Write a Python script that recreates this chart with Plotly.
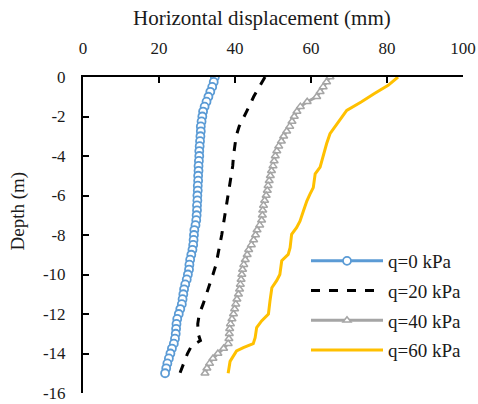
import plotly.graph_objects as go

# ---- data ----
x_ticks = [0, 20, 40, 60, 80, 100]
x_ticklabels = ["0", "20", "40", "60", "80", "100"]
y_ticks = [0, -2, -4, -6, -8, -10, -12, -14, -16]
y_ticklabels = ["0", "-2", "-4", "-6", "-8", "-10", "-12", "-14", "-16"]

depth_q0 = [0, -0.25, -0.5, -0.75, -1.0, -1.25, -1.5, -1.75, -2.0, -2.25, -2.5, -2.75,
            -3.0, -3.25, -3.5, -3.75, -4.0, -4.25, -4.5, -4.75, -5.0, -5.25, -5.5, -5.75,
            -6.0, -6.25, -6.5, -6.75, -7.0, -7.25, -7.5, -7.75, -8.0, -8.25, -8.5, -8.75,
            -9.0, -9.25, -9.5, -9.75, -10.0, -10.25, -10.5, -10.75, -11.0, -11.25, -11.5,
            -11.75, -12.0, -12.25, -12.5, -12.75, -13.0, -13.25, -13.5, -13.75, -14.0,
            -14.25, -14.5, -14.75, -15.0]
disp_q0 = [34.7, 34.4, 34.0, 33.5, 33.0, 32.5, 32.0, 31.6, 31.4, 31.2, 31.0, 31.0,
           30.9, 30.8, 30.7, 30.6, 30.6, 30.5, 30.4, 30.4, 30.3, 30.3, 30.2, 30.2,
           30.1, 30.1, 30.0, 30.0, 29.9, 29.8, 29.6, 29.3, 29.2, 29.1, 29.0, 28.8,
           28.5, 28.2, 28.0, 27.9, 27.6, 27.3, 26.9, 26.6, 26.4, 26.2, 26.0,
           25.6, 25.2, 24.8, 24.6, 24.5, 24.4, 24.2, 23.9, 23.4, 23.0,
           22.6, 22.2, 21.9, 21.6]

depth_q20 = [0, -0.5, -1.0, -1.5, -2.0, -2.5, -3.0, -3.5, -4.0, -4.5, -5.0, -5.5, -6.0,
             -6.5, -7.0, -7.5, -8.0, -8.5, -9.0, -9.5, -10.0, -10.5, -11.0, -11.5, -12.0,
             -12.5, -13.0, -13.35, -13.6, -14.0, -14.5, -15.0]
disp_q20 = [47.9, 46.3, 44.9, 43.7, 42.4, 41.1, 40.3, 39.9, 39.6, 39.4, 39.0, 38.6, 38.3,
            37.9, 37.4, 36.9, 36.5, 36.0, 35.6, 35.0, 34.2, 33.4, 32.6, 31.6, 30.6,
            30.2, 30.3, 30.9, 28.6, 27.5, 26.5, 25.5]

depth_q40 = depth_q0
disp_q40 = [65.0, 64.1, 63.2, 62.4, 61.5, 59.0, 57.2, 56.3, 55.6, 55.0, 54.4, 53.6,
            52.8, 52.2, 51.5, 51.0, 50.6, 50.3, 50.0, 49.6, 49.3, 49.0, 48.7, 48.5,
            48.2, 47.8, 47.5, 47.3, 47.2, 47.0, 46.5, 45.8, 45.4, 44.9, 44.3, 43.6,
            43.2, 42.7, 42.3, 42.0, 41.8, 41.6, 41.4, 41.2, 40.9, 40.5, 40.2,
            39.9, 39.6, 39.2, 38.8, 38.6, 38.5, 38.4, 38.2, 37.0, 35.5,
            34.2, 33.3, 32.6, 32.1]

depth_q60 = [0, -0.42, -0.84, -1.27, -1.69, -2.36, -2.87, -3.38, -4.05, -4.56, -4.9, -5.6,
             -5.94, -6.28, -6.79, -7.3, -7.63, -7.97, -8.64, -8.98, -9.3, -10.0, -10.3,
             -10.67, -11.35, -12.0, -12.35, -12.69, -13.2, -13.5, -13.7, -13.87, -14.4, -15.0]
disp_q60 = [82.9, 80.3, 76.7, 73.2, 69.4, 66.8, 65.0, 64.1, 63.2, 62.4, 61.1, 60.6,
            59.7, 58.9, 58.0, 57.1, 56.2, 54.9, 54.5, 54.0, 52.3, 51.8, 51.0,
            49.7, 49.2, 48.8, 47.0, 45.7, 45.3, 44.8, 42.2, 40.4, 38.7, 38.2]

names = ["q=0 kPa", "q=20 kPa", "q=40 kPa", "q=60 kPa"]

FONT = "Liberation Serif"
TXT = "#1a1a1a"

fig = go.Figure()
fig.add_trace(go.Scatter(
    x=disp_q0, y=depth_q0, name=names[0], mode="lines+markers", legendgroup="a",
    line=dict(color="#5B9BD5", width=3),
    marker=dict(symbol="circle", size=8, color="white",
                line=dict(color="#5B9BD5", width=1.8))))
fig.add_trace(go.Scatter(
    x=disp_q20, y=depth_q20, name=names[1], mode="lines", legendgroup="b",
    line=dict(color="black", width=3, dash="dash")))
fig.add_trace(go.Scatter(
    x=disp_q40, y=depth_q40, name=names[2], mode="lines+markers", legendgroup="c",
    line=dict(color="#A5A5A5", width=3),
    marker=dict(symbol="triangle-up", size=7, color="white",
                line=dict(color="#A5A5A5", width=1.5))))
fig.add_trace(go.Scatter(
    x=disp_q60, y=depth_q60, name=names[3], mode="lines", legendgroup="d",
    line=dict(color="#FFC000", width=3)))

L, R, T, B = 83, 15, 77, 11
W, H = 478, 404
pw, ph = W - L - R, H - T - B

fig.update_layout(
    width=W, height=H,
    margin=dict(l=L, r=R, t=T, b=B, pad=0, autoexpand=False),
    paper_bgcolor="white", plot_bgcolor="white",
    font=dict(family=FONT, size=16, color=TXT),
    showlegend=True,
    legend=dict(
        x=(306 - L) / pw, y=(H - B - 242) / ph, xanchor="left", yanchor="top",
        xref="paper", yref="paper",
        font=dict(family=FONT, size=19, color=TXT),
        bgcolor="rgba(0,0,0,0)", itemwidth=72,
        tracegroupgap=2, traceorder="grouped",
    ),
    xaxis=dict(
        side="top", range=[0, 100], tickvals=x_ticks, ticktext=x_ticklabels,
        showline=True, linecolor="black", linewidth=2, mirror=False,
        ticks="inside", ticklen=6, tickwidth=1.5, tickcolor="black",
        showgrid=False, zeroline=False, ticklabelstandoff=14, automargin=False,
        tickfont=dict(family=FONT, size=17, color=TXT),
    ),
    yaxis=dict(
        range=[-16, 0], tickvals=y_ticks, ticktext=y_ticklabels,
        showline=True, linecolor="black", linewidth=2, mirror=False,
        ticks="inside", ticklen=6, tickwidth=1.5, tickcolor="black",
        showgrid=False, zeroline=False, ticklabelstandoff=12, automargin=False,
        tickfont=dict(family=FONT, size=17, color=TXT),
    ),
    annotations=[
        dict(text="Horizontal displacement (mm)", xref="paper", yref="paper",
             x=(262 - L) / pw, y=(H - B - 17.5) / ph, xanchor="center", yanchor="middle",
             showarrow=False, font=dict(family=FONT, size=21, color=TXT)),
        dict(text="Depth (m)", xref="paper", yref="paper", textangle=-90,
             x=(17.5 - L) / pw, y=(H - B - 211) / ph, xanchor="center", yanchor="middle",
             showarrow=False, font=dict(family=FONT, size=19, color=TXT)),
    ],
)

fig.write_html("out.html")
